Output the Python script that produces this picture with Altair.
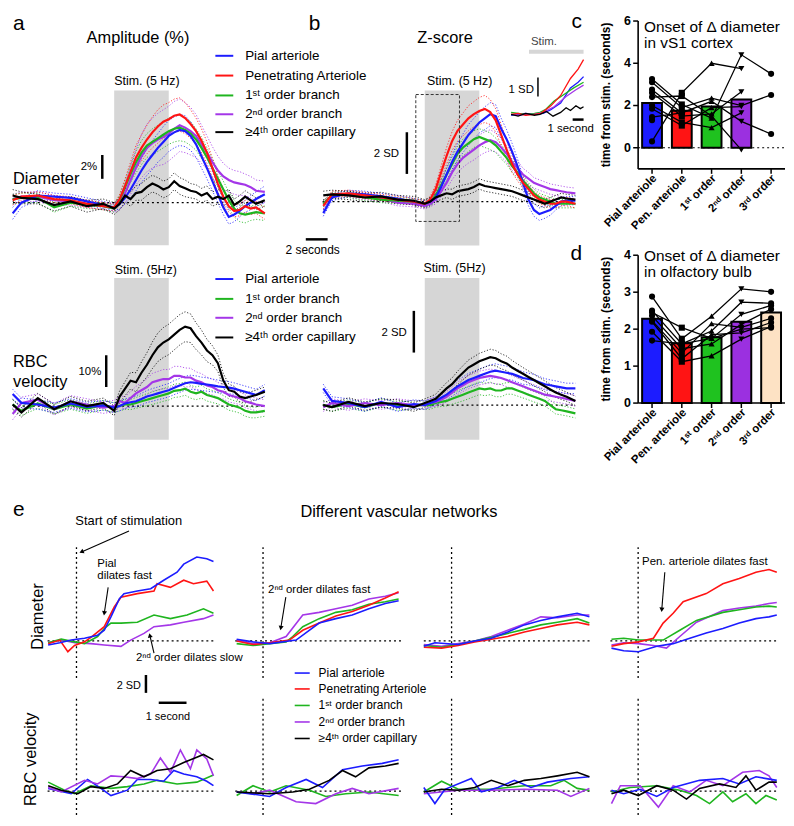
import altair as alt
import pandas as pd

FONT = "Liberation Sans"
GRAY = "#d6d6d6"
SERIES = ["pial", "pen", "first", "second", "cap"]
COLORS = ["#1c1cff", "#ff1414", "#1fb51f", "#a436e8", "#000000"]
CSCALE = alt.Scale(domain=SERIES, range=COLORS)

# ---------------- panel a / b time grid (seconds from stimulus onset) ----------------
T_AB = [-9.3, -8.5, -7, -5.5, -4, -2.5, -1, 0, 0.5, 1, 1.5, 2, 2.5, 3, 3.5, 4, 4.5, 5, 5.5, 6,
        6.5, 7, 7.5, 8, 8.5, 9, 9.5, 10, 10.5, 11, 11.5, 12, 12.5, 13, 13.8]

A_DIAM = {
    "second": [0.3, 0.5, 0.5, 0.2, 0.1, -0.1, -0.3, -0.5, -0.1, 0.8, 1.9, 3.0, 3.9, 4.6, 5.0, 5.3, 5.5, 5.8, 6.2, 6.5, 6.3, 6.0, 5.6, 4.9, 4.2, 3.4, 2.7, 2.2, 1.9, 1.7, 1.6, 1.5, 1.3, 1.0, 0.9],
    "first": [0.3, 0.4, 0.4, -0.4, 0.0, -0.2, -0.3, -0.5, 0.2, 1.3, 2.4, 3.4, 4.2, 4.8, 5.1, 5.4, 5.7, 6.0, 6.2, 6.3, 6.1, 5.8, 5.3, 4.6, 3.8, 2.9, 2.0, 1.1, 0.2, -0.5, -0.9, -1.0, -0.9, -0.8, -0.9],
    "pial": [-0.9, 0.0, 0.6, 0.5, 0.4, 0.1, -0.2, -0.4, -0.1, 0.4, 1.1, 1.9, 2.7, 3.4, 4.0, 4.6, 5.1, 5.6, 5.9, 6.1, 6.0, 5.6, 4.9, 3.9, 2.9, 1.8, 0.7, -0.4, -1.2, -1.0, -0.7, -0.3, 0.0, 0.3, 0.7],
    "pen": [0.2, 0.5, 0.6, 0.3, 0.2, -0.1, -0.3, -0.4, 0.3, 1.4, 2.6, 3.8, 4.6, 5.3, 5.9, 6.4, 6.8, 7.0, 7.3, 7.4, 7.1, 6.6, 6.0, 5.2, 4.2, 2.9, 1.6, 0.5, -0.3, -0.7, -0.6, -0.3, -0.5, -0.4, -0.9],
    "cap": [0.6, 0.4, 0.3, -0.2, 0.1, -0.3, -0.1, -0.5, -0.1, 0.6, 0.3, 0.8, 0.9, 1.3, 1.6, 1.4, 1.1, 1.3, 1.8, 1.4, 1.2, 1.0, 0.9, 0.6, 0.8, 0.3, 0.5, 0.3, 0.6, -0.2, 0.1, 0.5, 0.2, -0.1, 0.2],
}
A_DIAM_SEM = {
    "second": [0.4, 0.4, 0.4, 0.4, 0.3, 0.3, 0.3, 0.3, 0.5, 0.8, 1.2, 1.5, 1.8, 2.0, 2.1, 2.2, 2.3, 2.3, 2.3, 2.2, 2.1, 2.0, 1.8, 1.6, 1.4, 1.3, 1.2, 1.1, 1.0, 1.0, 1.0, 0.9, 0.9, 0.9, 0.9],
    "first": [0.4, 0.4, 0.4, 0.4, 0.3, 0.3, 0.3, 0.3, 0.4, 0.5, 0.7, 0.9, 1.0, 1.0, 1.1, 1.1, 1.1, 1.1, 1.1, 1.1, 1.0, 1.0, 0.9, 0.9, 0.8, 0.8, 0.7, 0.7, 0.7, 0.7, 0.7, 0.7, 0.6, 0.6, 0.6],
    "pial": [0.5, 0.4, 0.4, 0.3, 0.3, 0.3, 0.3, 0.3, 0.4, 0.5, 0.7, 0.9, 1.0, 1.1, 1.2, 1.2, 1.3, 1.3, 1.3, 1.3, 1.3, 1.2, 1.1, 1.0, 0.9, 0.8, 0.7, 0.6, 0.6, 0.6, 0.5, 0.5, 0.6, 0.6, 0.7],
    "pen": [0.4, 0.3, 0.3, 0.3, 0.3, 0.3, 0.3, 0.3, 0.4, 0.6, 0.8, 1.0, 1.1, 1.2, 1.3, 1.4, 1.4, 1.4, 1.4, 1.4, 1.3, 1.2, 1.1, 1.0, 0.9, 0.8, 0.7, 0.6, 0.5, 0.5, 0.5, 0.5, 0.5, 0.5, 0.5],
    "cap": [0.5, 0.5, 0.4, 0.5, 0.4, 0.5, 0.4, 0.5, 0.5, 0.6, 0.6, 0.6, 0.7, 0.7, 0.7, 0.7, 0.7, 0.7, 0.7, 0.7, 0.7, 0.6, 0.6, 0.6, 0.6, 0.6, 0.6, 0.6, 0.5, 0.5, 0.5, 0.5, 0.5, 0.5, 0.5],
}
B_DIAM = {
    "second": [-0.1, 0.3, 0.35, 0.25, 0.15, -0.05, -0.1, -0.2, -0.1, 0.1, 0.5, 0.9, 1.4, 1.8, 2.1, 2.3, 2.5, 2.7, 2.85, 2.95, 2.85, 2.6, 2.3, 1.9, 1.6, 1.3, 1.1, 0.9, 0.8, 0.7, 0.6, 0.55, 0.5, 0.45, 0.4],
    "first": [-0.1, 0.3, 0.35, 0.2, 0.1, 0.05, 0.0, -0.1, 0.0, 0.3, 0.8, 1.3, 1.8, 2.3, 2.6, 2.8, 3.0, 3.1, 3.0, 2.9, 2.7, 2.4, 2.1, 1.7, 1.4, 1.0, 0.7, 0.4, 0.2, 0.1, 0.0, -0.1, -0.1, -0.1, -0.1],
    "pial": [-0.55, 0.2, 0.4, 0.35, 0.25, 0.15, 0.0, -0.1, 0.0, 0.2, 0.7, 1.3, 1.9, 2.4, 2.8, 3.2, 3.5, 3.8, 4.0, 4.2, 4.1, 3.5, 3.0, 2.4, 1.7, 0.9, 0.1, -0.4, -0.6, -0.5, -0.4, -0.2, 0.0, 0.05, 0.05],
    "pen": [-0.2, 0.35, 0.4, 0.3, 0.2, 0.1, 0.0, -0.1, 0.1, 0.6, 1.4, 2.2, 2.9, 3.4, 3.7, 4.0, 4.2, 4.35, 4.45, 4.3, 3.9, 3.2, 2.5, 1.8, 1.3, 0.9, 0.6, 0.3, 0.1, 0.0, -0.1, -0.1, 0.0, 0.0, -0.1],
    "cap": [0.3, 0.35, 0.3, 0.2, 0.25, 0.1, 0.05, -0.1, 0.0, 0.2, 0.3, 0.4, 0.35, 0.5, 0.55, 0.6, 0.7, 0.85, 0.75, 0.7, 0.65, 0.6, 0.55, 0.5, 0.4, 0.3, 0.2, 0.1, 0.0, -0.1, 0.0, 0.1, 0.2, 0.15, 0.1],
}
B_DIAM_SEM = {
    "second": [0.15, 0.15, 0.15, 0.15, 0.15, 0.15, 0.15, 0.15, 0.15, 0.2, 0.25, 0.3, 0.35, 0.4, 0.45, 0.45, 0.5, 0.5, 0.5, 0.5, 0.45, 0.45, 0.4, 0.4, 0.35, 0.3, 0.3, 0.25, 0.25, 0.25, 0.25, 0.25, 0.25, 0.25, 0.25],
    "first": [0.15, 0.15, 0.15, 0.15, 0.15, 0.15, 0.15, 0.15, 0.15, 0.2, 0.25, 0.3, 0.35, 0.35, 0.4, 0.4, 0.4, 0.4, 0.4, 0.4, 0.35, 0.35, 0.3, 0.3, 0.25, 0.25, 0.2, 0.2, 0.2, 0.2, 0.2, 0.2, 0.2, 0.2, 0.2],
    "pial": [0.15, 0.15, 0.15, 0.15, 0.15, 0.15, 0.15, 0.15, 0.15, 0.2, 0.25, 0.3, 0.35, 0.4, 0.45, 0.5, 0.5, 0.5, 0.55, 0.55, 0.55, 0.5, 0.45, 0.4, 0.35, 0.3, 0.3, 0.3, 0.3, 0.3, 0.25, 0.2, 0.2, 0.2, 0.2],
    "pen": [0.15, 0.15, 0.15, 0.15, 0.15, 0.15, 0.15, 0.15, 0.15, 0.2, 0.3, 0.4, 0.45, 0.5, 0.55, 0.6, 0.6, 0.65, 0.65, 0.6, 0.55, 0.5, 0.45, 0.4, 0.3, 0.25, 0.2, 0.2, 0.2, 0.2, 0.2, 0.2, 0.2, 0.2, 0.2],
    "cap": [0.2, 0.2, 0.2, 0.2, 0.2, 0.2, 0.2, 0.2, 0.2, 0.2, 0.2, 0.2, 0.25, 0.25, 0.25, 0.25, 0.25, 0.25, 0.25, 0.25, 0.25, 0.25, 0.25, 0.25, 0.25, 0.25, 0.2, 0.2, 0.2, 0.2, 0.2, 0.2, 0.2, 0.2, 0.2],
}
A_RBC = {
    "first": [0.5, -1.5, 0.8, -1.0, 0.5, -0.8, 0.3, -0.5, 0.0, 0.5, 0.5, 1.0, 1.5, 2.0, 2.5, 3.0, 3.5, 4.0, 4.8, 5.0, 5.5, 4.5, 4.0, 4.5, 3.5, 3.0, 2.5, 1.5, 0.5, 0.0, -0.5, -1.5, -2.0, -2.0, -1.5],
    "second": [-2.5, 1.0, 2.0, -1.0, 1.5, 0.5, -0.5, 0.0, 1.5, 1.0, 2.5, 4.0, 5.0, 6.0, 7.5, 8.0, 8.5, 8.5, 9.5, 9.5, 9.0, 9.0, 8.0, 7.5, 6.5, 6.0, 5.0, 4.5, 3.5, 3.0, 2.5, 1.5, 1.0, 0.5, 0.0],
    "pial": [3.8, 1.0, 0.5, -0.5, 0.8, -0.3, 0.2, -0.5, 0.0, 0.8, 1.2, 1.5, 2.2, 3.0, 3.5, 4.0, 4.5, 5.0, 5.8, 6.5, 7.2, 7.5, 7.3, 7.0, 6.8, 6.5, 6.2, 6.0, 5.8, 5.5, 5.0, 4.5, 4.0, 3.5, 5.0],
    "cap": [0.5, -2.0, 2.5, -1.0, 1.5, 0.0, 1.0, -1.5, 3.0, 5.5, 8.0, 7.5, 10.5, 13.0, 16.0, 18.5, 20.0, 21.0, 22.5, 24.0, 25.0, 24.5, 22.0, 20.0, 17.5, 16.0, 13.5, 8.0, 5.0, 4.5, 3.0, 2.5, 3.0, 3.5, 4.5],
}
A_RBC_SEM = {
    "first": [1.5, 1.5, 1.5, 1.5, 1.5, 1.5, 1.5, 1.5, 1.5, 1.5, 1.6, 1.7, 1.8, 1.9, 2.0, 2.0, 2.0, 2.1, 2.1, 2.1, 2.1, 2.0, 2.0, 2.0, 1.9, 1.9, 1.8, 1.8, 1.8, 1.7, 1.7, 1.7, 1.7, 1.7, 1.7],
    "second": [1.8, 1.8, 1.8, 1.8, 1.8, 1.8, 1.8, 1.8, 1.8, 1.9, 2.0, 2.2, 2.4, 2.6, 2.8, 2.9, 3.0, 3.0, 3.0, 3.0, 3.0, 2.9, 2.8, 2.7, 2.6, 2.5, 2.4, 2.3, 2.2, 2.1, 2.0, 2.0, 2.0, 2.0, 2.0],
    "pial": [1.5, 1.5, 1.5, 1.5, 1.5, 1.5, 1.5, 1.5, 1.5, 1.5, 1.5, 1.7, 1.8, 1.9, 2.0, 2.0, 2.1, 2.1, 2.2, 2.2, 2.2, 2.2, 2.2, 2.1, 2.1, 2.0, 2.0, 1.9, 1.9, 1.8, 1.8, 1.8, 1.8, 1.8, 1.8],
    "cap": [1.5, 1.5, 1.5, 1.5, 1.5, 1.5, 1.5, 1.5, 1.8, 2.2, 2.6, 3.0, 3.4, 3.8, 4.2, 4.5, 4.7, 4.8, 4.8, 4.8, 4.7, 4.5, 4.2, 3.9, 3.5, 3.0, 2.6, 2.2, 1.9, 1.7, 1.6, 1.5, 1.5, 1.5, 1.5],
}
B_RBC = {
    "first": [0.0, -0.1, 0.05, -0.1, 0.1, -0.05, 0.0, 0.0, 0.0, 0.1, 0.15, 0.2, 0.3, 0.4, 0.5, 0.6, 0.7, 0.8, 0.75, 0.8, 0.7, 0.7, 0.8, 0.8, 0.7, 0.6, 0.5, 0.4, 0.3, 0.2, 0.0, -0.2, -0.25, -0.3, -0.4],
    "second": [-0.1, 0.1, -0.05, 0.1, 0.0, 0.1, 0.0, 0.0, 0.1, 0.15, 0.25, 0.4, 0.6, 0.8, 0.95, 1.1, 1.2, 1.3, 1.35, 1.4, 1.35, 1.3, 1.2, 1.1, 1.0, 0.9, 0.8, 0.7, 0.6, 0.5, 0.45, 0.4, 0.35, 0.3, 0.2],
    "pial": [0.8, 0.2, 0.1, -0.1, 0.15, -0.1, 0.05, 0.0, 0.1, 0.2, 0.35, 0.5, 0.7, 0.9, 1.05, 1.2, 1.3, 1.4, 1.5, 1.6, 1.65, 1.6, 1.55, 1.5, 1.4, 1.3, 1.25, 1.2, 1.1, 1.0, 0.95, 0.9, 0.85, 0.8, 0.8],
    "cap": [0.0, -0.1, 0.15, -0.05, 0.1, 0.05, -0.1, 0.1, 0.2, 0.3, 0.55, 0.8, 1.0, 1.3, 1.55, 1.8, 1.95, 2.1, 2.2, 2.3, 2.25, 2.1, 2.0, 1.8, 1.65, 1.5, 1.35, 1.2, 1.05, 0.9, 0.75, 0.6, 0.5, 0.4, 0.2],
}
B_RBC_SEM = {
    "first": [0.2, 0.2, 0.2, 0.2, 0.2, 0.2, 0.2, 0.2, 0.2, 0.2, 0.22, 0.24, 0.26, 0.28, 0.3, 0.3, 0.3, 0.3, 0.3, 0.3, 0.3, 0.3, 0.28, 0.28, 0.27, 0.26, 0.25, 0.25, 0.24, 0.24, 0.23, 0.23, 0.22, 0.22, 0.22],
    "second": [0.2, 0.2, 0.2, 0.2, 0.2, 0.2, 0.2, 0.2, 0.2, 0.2, 0.22, 0.25, 0.27, 0.3, 0.3, 0.32, 0.32, 0.33, 0.33, 0.33, 0.33, 0.32, 0.32, 0.3, 0.3, 0.3, 0.28, 0.28, 0.27, 0.27, 0.26, 0.26, 0.25, 0.25, 0.25],
    "pial": [0.2, 0.2, 0.2, 0.2, 0.2, 0.2, 0.2, 0.2, 0.2, 0.2, 0.22, 0.25, 0.27, 0.3, 0.3, 0.32, 0.32, 0.33, 0.33, 0.33, 0.33, 0.32, 0.32, 0.3, 0.3, 0.3, 0.28, 0.28, 0.27, 0.27, 0.26, 0.26, 0.25, 0.25, 0.25],
    "cap": [0.2, 0.2, 0.2, 0.2, 0.2, 0.2, 0.2, 0.2, 0.2, 0.22, 0.25, 0.28, 0.3, 0.32, 0.34, 0.36, 0.37, 0.38, 0.38, 0.38, 0.37, 0.36, 0.35, 0.34, 0.32, 0.3, 0.29, 0.28, 0.27, 0.26, 0.25, 0.24, 0.23, 0.22, 0.22],
}

# inset of panel b (onset detail, z-score)
INSET = {
    "pial": ([-1.64, -1.0, -0.3, 0.5, 1.3, 2.0, 2.9, 3.8, 4.5, 5.0], [-0.05, 0.0, 0.05, 0.0, 0.05, 0.25, 0.6, 1.4, 1.7, 2.0]),
    "first": ([-1.64, -1.0, -0.3, 0.5, 1.0, 1.5, 2.3, 3.2, 4.1, 5.0], [0.1, 0.05, 0.0, 0.05, 0.1, 0.25, 0.7, 1.05, 1.4, 1.7]),
    "second": ([-1.64, -1.0, -0.3, 0.5, 1.3, 2.3, 3.4, 4.3, 5.0], [0.0, -0.05, 0.0, 0.0, 0.1, 0.4, 0.95, 1.3, 1.55]),
    "pen": ([-1.64, -1.0, -0.3, 0.5, 1.1, 2.0, 2.9, 3.8, 4.5, 5.0], [0.0, 0.05, -0.05, 0.0, 0.05, 0.45, 1.0, 1.9, 2.4, 2.9]),
    "cap": ([-1.64, -1.0, -0.3, 0.5, 1.0, 1.6, 2.2, 2.9, 3.4, 3.8, 4.3, 4.7, 5.0], [0.0, -0.1, 0.05, -0.05, 0.0, 0.15, -0.1, 0.1, 0.35, 0.2, 0.45, 0.3, 0.4]),
}

# ---------------- panels c / d ----------------
CATS = ["Pial arteriole", "Pen. arteriole", "1ˢᵗ order", "2ⁿᵈ order", "3ʳᵈ order"]
CAT_POS = [1, 2, 3, 4, 5]
BAR_HALF = 0.333          # half bar width, in category units
BAR_COLORS = ["#1c1cff", "#ff1414", "#1fc21f", "#9b30e0", "#fde2c4"]
SHAPES = ["circle", "square", "triangle-up", "triangle-down", "circle"]
C_YTICKS = [0, 2, 4, 6]
D_YTICKS = [0, 1, 2, 3, 4]
C_BARS = [2.12, 1.75, 1.95, 2.28, None]
C_SUBJ = [
    [0.3, 2.6, 4.0, 3.75, None],
    [3.25, 2.05, 1.4, 4.4, 3.5],
    [3.1, 1.9, 2.35, 2.0, 2.5],
    [2.75, 1.65, 2.2, 1.25, 0.65],
    [2.6, 1.5, 1.6, 2.65, None],
    [2.4, 2.45, 1.5, -0.1, None],
    [2.0, 1.2, 0.95, 1.65, None],
    [1.85, 1.05, 1.9, 1.95, None],
    [1.45, 1.65, None, None, None],
    [1.3, None, None, None, None],
]
D_BARS = [2.28, 1.62, 1.78, 2.2, 2.45]
D_SUBJ = [
    [2.88, 1.74, 2.35, 3.09, 3.01],
    [2.5, 1.6, 1.95, 2.73, 2.7],
    [2.45, 2.04, 1.75, 2.4, 2.64],
    [2.36, 1.47, 1.6, 2.13, 2.54],
    [2.23, 1.35, 2.15, 2.05, 2.29],
    [2.2, 1.2, 1.85, 1.9, 2.18],
    [1.93, 1.12, 1.28, 1.73, 2.07],
    [1.69, 1.6, 1.75, 2.0, 2.04],
]

# ---------------- panel e (example networks, z-score) ----------------
E_DIAM = [
    {"second": ([-1.02, -0.55, -0.07, 0.52, 1.0, 1.6, 1.95, 2.43, 2.79, 3.38, 3.86, 4.57, 4.93], [-0.2, 0.1, -0.2, -0.3, -0.45, -0.6, 0.1, 0.85, 1.6, 1.8, 2.1, 2.5, 2.9]),
     "first": ([-1.02, -0.55, -0.07, 0.29, 0.76, 1.0, 1.24, 1.6, 2.19, 2.79, 3.38, 3.98, 4.57, 4.93], [-0.2, 0.2, -0.1, -0.3, 0.5, 1.4, 2.0, 2.0, 2.1, 2.9, 2.5, 2.9, 3.6, 3.1]),
     "pen": ([-1.02, -0.6, -0.31, -0.07, 0.29, 0.52, 1.0, 1.36, 1.6, 2.19, 2.79, 2.9, 3.38, 3.86, 4.21, 4.69, 4.93], [-0.3, 0.1, -1.2, -0.5, -0.1, 0.4, 1.6, 3.8, 4.9, 5.3, 5.6, 6.4, 6.0, 6.8, 6.4, 6.7, 5.6]),
     "pial": ([-1.02, -0.6, -0.19, 0.29, 0.76, 1.0, 1.24, 1.54, 1.71, 2.19, 2.67, 3.14, 3.62, 3.86, 4.33, 4.69, 4.93], [-0.45, -0.2, 0.1, 0.3, 0.65, 1.2, 2.7, 4.7, 5.3, 5.6, 5.85, 6.8, 7.7, 8.6, 9.4, 9.2, 8.9])},
    {"second": ([-0.95, -0.36, 0.24, 0.83, 1.43, 2.02, 2.62, 3.21, 3.81, 4.4, 4.88], [0.1, -0.3, -0.2, 0.5, 2.9, 3.2, 3.6, 4.0, 4.7, 5.0, 5.4]),
     "first": ([-0.95, -0.36, 0.24, 0.83, 1.07, 1.43, 2.02, 2.62, 3.21, 3.81, 4.4, 4.88], [-0.3, -0.5, -0.3, -0.1, 0.5, 1.6, 2.5, 3.2, 3.5, 4.1, 4.4, 4.7]),
     "pen": ([-0.95, -0.36, 0.24, 0.95, 1.43, 2.02, 2.62, 3.21, 3.81, 4.4, 4.88], [0.0, -0.4, -0.2, 0.1, 1.2, 2.0, 2.8, 3.3, 4.0, 4.8, 5.5]),
     "pial": ([-0.95, -0.36, 0.24, 1.19, 2.02, 2.62, 3.21, 3.81, 4.4, 4.88], [0.2, -0.1, -0.3, 0.1, 2.0, 2.5, 2.9, 3.6, 4.2, 4.5])},
    {"second": ([-1.0, -0.36, 0.24, 0.83, 1.43, 2.02, 2.62, 3.21, 3.81, 4.52, 4.96], [-0.4, -0.6, -0.3, 0.0, 0.5, 1.2, 1.9, 2.7, 2.6, 2.9, 2.9]),
     "first": ([-1.0, -0.36, 0.24, 0.83, 1.43, 2.02, 2.62, 3.21, 3.81, 4.52, 4.96], [-0.5, -0.7, -0.4, 0.0, 0.4, 0.85, 1.3, 1.8, 2.1, 2.5, 2.0]),
     "pen": ([-1.0, -0.36, 0.24, 0.83, 1.43, 2.02, 2.62, 3.21, 3.81, 4.52, 4.96], [-0.7, -0.8, -0.5, -0.1, 0.2, 0.5, 1.0, 1.4, 1.8, 2.1, 1.8]),
     "pial": ([-1.0, -0.6, 0.24, 0.83, 1.43, 2.02, 2.62, 3.21, 3.81, 4.52, 4.96], [-0.6, -0.2, -0.4, 0.0, 0.3, 1.0, 1.8, 2.3, 2.7, 3.1, 2.7])},
    {"second": ([-0.96, -0.52, 0.01, 0.55, 1.02, 1.5, 2.1, 3.05, 3.64, 4.24, 4.71, 4.99], [-0.45, -0.2, -0.3, -0.5, -0.8, 0.5, 2.1, 3.4, 3.7, 3.9, 4.2, 4.3]),
     "first": ([-0.96, -0.52, 0.01, 0.9, 1.5, 2.1, 3.05, 3.64, 4.24, 4.71, 4.99], [0.2, 0.3, 0.1, 0.1, 1.2, 2.3, 3.2, 3.5, 3.8, 3.9, 3.8]),
     "pen": ([-0.96, -0.52, 0.01, 0.55, 0.9, 1.26, 1.62, 2.45, 3.05, 3.64, 4.24, 4.71, 4.99], [-0.6, -0.3, -0.1, 0.3, 2.0, 3.1, 4.4, 5.3, 6.4, 7.0, 7.7, 8.0, 7.7]),
     "pial": ([-0.96, -0.52, 0.01, 0.67, 1.26, 1.86, 2.45, 3.05, 3.64, 4.24, 4.71, 4.99], [-0.8, -1.1, -1.2, -0.6, -0.3, 0.3, 0.9, 1.4, 2.0, 2.5, 2.7, 2.9])},
]
E_RBC = [
    {"first": ([-1.02, -0.43, -0.07, 0.52, 1.24, 1.83, 2.43, 2.9, 3.62, 4.33, 4.93], [1.0, 0.1, -0.3, 0.6, 0.3, 0.5, 0.8, 1.2, 0.8, 1.0, 1.8]),
     "pial": ([-1.02, -0.19, 0.4, 0.88, 1.24, 1.83, 2.19, 2.67, 3.14, 3.5, 3.86, 4.33, 4.69, 4.93], [0.3, -0.3, 1.3, 0.3, -0.5, 0.1, 1.3, 1.3, 1.1, 2.3, 1.9, 1.6, 1.1, 0.6]),
     "second": ([-1.02, -0.55, 0.29, 0.76, 1.24, 1.71, 2.19, 2.67, 3.02, 3.38, 3.74, 4.1, 4.33, 4.69, 4.93], [0.4, -0.1, 1.2, 0.8, 1.7, 1.6, 1.4, 1.9, 3.7, 2.1, 4.6, 2.5, 4.6, 3.6, 1.7]),
     "cap": ([-1.02, -0.55, 0.05, 0.52, 1.0, 1.48, 1.95, 2.43, 2.9, 3.38, 3.86, 4.33, 4.57, 4.93], [0.6, 0.1, -0.3, 0.5, 0.3, 0.8, 2.3, 1.6, 2.3, 2.5, 3.2, 3.8, 4.1, 3.5])},
    {"first": ([-0.95, -0.36, 0.24, 0.83, 1.67, 2.26, 2.98, 3.81, 4.88], [-0.5, 0.6, -0.1, 0.6, 0.1, -0.6, -0.3, -0.1, -0.5]),
     "second": ([-0.95, -0.36, 0.24, 1.19, 1.9, 2.62, 3.21, 3.81, 4.88], [-0.1, -0.3, 0.1, -1.2, -1.4, -0.3, 0.3, -0.3, 0.3]),
     "pial": ([-0.95, 0.24, 0.83, 1.55, 2.14, 2.86, 3.57, 4.29, 4.88], [-0.1, -0.6, 0.4, 1.3, 0.4, 2.4, 2.8, 3.1, 3.5]),
     "cap": ([-0.95, 0.24, 1.07, 1.67, 2.38, 2.86, 3.33, 3.81, 4.4, 4.88], [-0.1, -0.3, -0.1, 0.2, 1.2, 2.3, 1.6, 2.6, 2.8, 3.1])},
    {"first": ([-1.0, -0.36, 0.24, 1.43, 2.62, 3.57, 4.05, 4.52, 4.96], [-0.1, 1.1, 0.2, 0.2, 0.6, 0.6, 1.2, 0.3, 0.1]),
     "second": ([-1.0, 0.24, 1.43, 2.62, 3.81, 4.29, 4.96], [-0.3, 0.1, 0.1, 0.2, 0.1, -0.6, 0.3]),
     "pial": ([-1.0, -0.6, -0.24, 0.71, 1.07, 1.67, 2.26, 2.86, 3.45, 4.29, 4.96], [0.4, -1.4, 0.2, 1.4, -0.1, 0.4, 1.2, 0.4, 1.0, 1.4, 1.6]),
     "cap": ([-1.0, -0.36, 0.24, 0.83, 1.43, 2.02, 2.62, 3.21, 3.81, 4.52, 4.96], [-0.1, 0.2, 0.1, 0.4, 1.2, 0.6, 1.2, 1.4, 1.7, 2.1, 1.6])},
    {"first": ([-0.96, -0.29, 0.67, 1.5, 2.1, 2.57, 3.05, 3.4, 3.88, 4.24, 4.6, 4.99], [-0.1, 0.4, 0.6, 0.1, -0.5, -1.4, -0.1, -1.2, -0.3, -1.4, -0.5, -1.0]),
     "second": ([-0.96, -0.64, 0.07, 0.73, 1.26, 1.86, 2.45, 3.05, 3.76, 4.36, 4.71, 4.99], [-1.4, 0.6, 0.6, -1.8, 0.6, -0.1, 1.2, 0.6, 2.1, 2.3, 1.7, 0.4]),
     "pial": ([-0.96, -0.52, 0.07, 0.67, 1.26, 2.21, 3.05, 3.64, 4.24, 4.99], [0.1, -0.3, 0.2, -0.6, 0.4, 1.2, 1.4, 0.8, 1.6, 1.2]),
     "cap": ([-0.96, -0.52, 0.01, 0.67, 1.26, 1.74, 2.21, 2.93, 3.52, 3.88, 4.24, 4.71, 4.99], [-0.3, 0.1, -0.5, 0.6, 0.1, -0.9, 0.3, 0.8, 0.4, 1.7, 0.1, 1.0, 1.0])},
]

LEG_DIAM = ["Pial arteriole", "Penetrating Arteriole", "1ˢᵗ order branch", "2ⁿᵈ order branch", "≥4ᵗʰ order capillary"]
LEG_RBC = ["Pial arteriole", "1ˢᵗ order branch", "2ⁿᵈ order branch", " ≥4ᵗʰ order capillary"]


# ---------------- helpers ----------------
def scales(xdom, ydom, xr, yr):
    sx = alt.Scale(domain=xdom, range=xr, nice=False, zero=False, padding=0)
    sy = alt.Scale(domain=ydom, range=yr, nice=False, zero=False, padding=0)
    X = lambda f: alt.X(f, type="quantitative", scale=sx, axis=None)
    Y = lambda f: alt.Y(f, type="quantitative", scale=sy, axis=None)
    return X, Y


def txt(X, Y, rows, **mk):
    df = pd.DataFrame(rows, columns=["t", "v", "label"])
    props = dict(font=FONT, fontSize=12, align="left", baseline="alphabetic", color="black")
    props.update(mk)
    return alt.Chart(df).mark_text(**props).encode(x=X("t"), y=Y("v"), text=alt.Text("label:N"))


def seg(X, Y, rows, **mk):
    df = pd.DataFrame(rows, columns=["t", "v", "t2", "v2"])
    props = dict(color="black", strokeWidth=1.5)
    props.update(mk)
    return alt.Chart(df).mark_rule(**props).encode(x=X("t"), y=Y("v"), x2=alt.X2("t2"), y2=alt.Y2("v2"))


def box(X, Y, rows, **mk):
    df = pd.DataFrame(rows, columns=["t", "v", "t2", "v2"])
    return alt.Chart(df).mark_rect(**mk).encode(x=X("t"), y=Y("v"), x2=alt.X2("t2"), y2=alt.Y2("v2"))


def traces(X, Y, df, **mk):
    props = dict(strokeWidth=2)
    props.update(mk)
    return alt.Chart(df).mark_line(**props).encode(
        x=X("t"), y=Y("v"), color=alt.Color("s:N", scale=CSCALE, legend=None), detail="k:N")


def mean_df(T, data):
    rows = []
    for s, vals in data.items():
        for t, v in zip(T, vals):
            rows.append((t, v, s, s))
    return pd.DataFrame(rows, columns=["t", "v", "s", "k"])


def sem_df(T, data, sem):
    rows = []
    for s, vals in data.items():
        for t, v, e in zip(T, vals, sem[s]):
            rows.append((t, v + e, s, s + "_hi"))
            rows.append((t, v - e, s, s + "_lo"))
    return pd.DataFrame(rows, columns=["t", "v", "s", "k"])


def pair_df(d):
    rows = []
    for s, (ts, vs) in d.items():
        for t, v in zip(ts, vs):
            rows.append((t, v, s, s))
    return pd.DataFrame(rows, columns=["t", "v", "s", "k"])


def legend(X, Y, keys, labels, ys, t0, t1, tt, size, width=2):
    df = pd.DataFrame({"t": [t0] * len(keys), "t2": [t1] * len(keys), "v": ys, "s": keys})
    lines = alt.Chart(df).mark_rule(strokeWidth=width).encode(
        x=X("t"), x2=alt.X2("t2"), y=Y("v"), color=alt.Color("s:N", scale=CSCALE, legend=None))
    return [lines, txt(X, Y, list(zip([tt] * len(keys), ys, labels)), baseline="middle", fontSize=size)]


def arrow(X, Y, t, v, t2, v2, ang):
    head = alt.Chart(pd.DataFrame({"t": [t2], "v": [v2]})).mark_point(
        shape="triangle-up", filled=True, size=26, angle=ang, color="black", opacity=1
    ).encode(x=X("t"), y=Y("v"))
    return [seg(X, Y, [(t, v, t2, v2)], strokeWidth=1.1), head]


DOT = dict(strokeDash=[2, 3], strokeWidth=1.3)
SEMSTYLE = dict(strokeWidth=0.9, strokeDash=[1.2, 1.8], opacity=0.9)

# One canvas (778 x 805 px); every sub-panel gets its own scales whose ranges place it.
# ================= panel a =================
Xa, Ya = scales([-9.273, 16.364], [-4.083, 15.25], [0, 282], [237, 5])
a_diam = alt.layer(
    box(Xa, Ya, [(0, 9.42, 5, -3.58)], color=GRAY),
    seg(Xa, Ya, [(-9.27, 0, 13.8, 0)], **DOT),
    traces(Xa, Ya, sem_df(T_AB, A_DIAM, A_DIAM_SEM), **SEMSTYLE),
    traces(Xa, Ya, mean_df(T_AB, A_DIAM), strokeWidth=2.2),
    seg(Xa, Ya, [(-1.09, 2.0, -1.09, 4.0)], strokeWidth=2.5),
    txt(Xa, Ya, [(-9.273, 14.5, "a")], fontSize=21),
    txt(Xa, Ya, [(2.18, 13.4, "Amplitude (%)")], fontSize=16.5, align="center"),
    txt(Xa, Ya, [(3.0, 9.9, "Stim. (5 Hz)")], fontSize=12.5, align="center"),
    txt(Xa, Ya, [(-9.273, 1.58, "Diameter")], fontSize=16.5),
    txt(Xa, Ya, [(-1.55, 2.75, "2%")], fontSize=11.5, align="right"),
    *legend(Xa, Ya, ["pial", "pen", "first", "second", "cap"], LEG_DIAM,
            [12.33, 10.67, 9.0, 7.42, 5.92], 9.27, 10.91, 12.0, 13.5),
)

Xar, Yar = scales([-9.273, 16.364], [-21.56, 48.75], [0, 282], [462, 237])
a_rbc = alt.layer(
    box(Xar, Yar, [(0, 40.3, 5, -10.6)], color=GRAY),
    seg(Xar, Yar, [(-9.27, 0, 13.8, 0)], **DOT),
    traces(Xar, Yar, sem_df(T_AB, A_RBC, A_RBC_SEM), **SEMSTYLE),
    traces(Xar, Yar, mean_df(T_AB, A_RBC), strokeWidth=2.2),
    seg(Xar, Yar, [(-0.73, 6.0, -0.73, 16.0)], strokeWidth=2.5),
    txt(Xar, Yar, [(2.9, 41.6, "Stim. (5Hz)")], fontSize=12.5, align="center"),
    txt(Xar, Yar, [(-9.273, 12.2, "RBC"), (-9.273, 5.9, "velocity")], fontSize=16.5),
    txt(Xar, Yar, [(-1.18, 9.7, "10%")], fontSize=11.5, align="right"),
    *legend(Xar, Yar, ["pial", "first", "second", "cap"], LEG_RBC,
            [40.0, 33.75, 27.8, 21.6], 9.27, 10.91, 12.0, 13.5),
)

# ================= panel b =================
Xb, Yb = scales([-12.09, 19.55], [-2.381, 8.667], [282, 630], [237, 5])
b_diam = alt.layer(
    box(Xb, Yb, [(0, 5.33, 5, -2.1)], color=GRAY),
    seg(Xb, Yb, [(-9.36, 0, 13.8, 0)], **DOT),
    traces(Xb, Yb, sem_df(T_AB, B_DIAM, B_DIAM_SEM), **SEMSTYLE),
    traces(Xb, Yb, mean_df(T_AB, B_DIAM), strokeWidth=2.2),
    box(Xb, Yb, [(-0.82, 5.14, 3.18, -0.95)], fillOpacity=0, stroke="#333333", strokeWidth=1, strokeDash=[3, 2]),
    seg(Xb, Yb, [(-1.64, 1.33, -1.64, 3.33)], strokeWidth=2.5),
    seg(Xb, Yb, [(-10.9, -1.81, -8.9, -1.81)], strokeWidth=2.5),
    txt(Xb, Yb, [(-10.64, 8.24, "b")], fontSize=21),
    txt(Xb, Yb, [(13.45, 8.33, "c")], fontSize=21),
    txt(Xb, Yb, [(1.86, 7.62, "Z-score")], fontSize=16.5, align="center"),
    txt(Xb, Yb, [(3.2, 5.62, "Stim. (5 Hz)")], fontSize=12.5, align="center"),
    txt(Xb, Yb, [(-2.36, 2.14, "2 SD")], fontSize=11.5, align="right"),
    txt(Xb, Yb, [(-10.27, -2.52, "2 seconds")], fontSize=12, align="center"),
)

Xi, Yi = scales([-1.64, 5.0], [0, 3], [502, 575], [99, 42])
inset = alt.layer(
    box(Xi, Yi, [(0, 3.21, 5, 3.42)], color=GRAY),
    traces(Xi, Yi, pair_df(INSET), strokeWidth=1.3),
    seg(Xi, Yi, [(0.82, 0.95, 0.82, 1.95)], strokeWidth=1.5),
    seg(Xi, Yi, [(4.0, -0.28, 5.0, -0.28)], strokeWidth=2.5),
    txt(Xi, Yi, [(0.18, 3.68, "Stim.")], fontSize=11.5, color="#444444"),
    txt(Xi, Yi, [(0.45, 1.15, "1 SD")], fontSize=11.5, align="right"),
    txt(Xi, Yi, [(3.82, -0.95, "1 second")], fontSize=11.5, align="center"),
)

Xbr, Ybr = scales([-12.09, 19.55], [-3.333, 7.381], [282, 630], [462, 237])
b_rbc = alt.layer(
    box(Xbr, Ybr, [(0, 6.1, 5, -1.67)], color=GRAY),
    seg(Xbr, Ybr, [(-9.36, 0, 13.8, 0)], **DOT),
    traces(Xbr, Ybr, sem_df(T_AB, B_RBC, B_RBC_SEM), **SEMSTYLE),
    traces(Xbr, Ybr, mean_df(T_AB, B_RBC), strokeWidth=2.2),
    seg(Xbr, Ybr, [(-1.0, 2.52, -1.0, 4.52)], strokeWidth=2.5),
    txt(Xbr, Ybr, [(2.73, 6.38, "Stim. (5Hz)")], fontSize=12.5, align="center"),
    txt(Xbr, Ybr, [(-1.64, 3.33, "2 SD")], fontSize=11.5, align="right"),
    txt(Xbr, Ybr, [(13.36, 6.95, "d")], fontSize=21),
)


# ================= panels c / d (categories at positions 1..5) =================
def bar_panel(X, Y, bars, subj, ybase, yticks, ytop, title_rows, zero_line, tick_units, label_v):
    bdf = pd.DataFrame([(p - BAR_HALF, p + BAR_HALF, c, v, 0) for p, c, v in zip(CAT_POS, CATS, bars) if v is not None],
                       columns=["t0", "t1", "cat", "v", "z"])
    srows = []
    for i, row in enumerate(subj):
        for j, (p, c, v) in enumerate(zip(CAT_POS, CATS, row)):
            if v is not None:
                srows.append((i, j, p, c, v))
    sdf = pd.DataFrame(srows, columns=["subj", "idx", "t", "cat", "v"])
    x0, x1 = 0.533, 5.467
    layers = []
    if zero_line:
        layers.append(seg(X, Y, [(x0, 0, x1, 0)], strokeDash=[2, 3], strokeWidth=1.2))
    layers += [
        alt.Chart(bdf).mark_rect(stroke="black", strokeWidth=2).encode(
            x=X("t0"), x2=alt.X2("t1"), y=Y("v"), y2=alt.Y2("z"),
            fill=alt.Fill("cat:N", scale=alt.Scale(domain=CATS, range=BAR_COLORS), legend=None)),
        alt.Chart(sdf).mark_line(color="black", strokeWidth=1.3).encode(
            x=X("t"), y=Y("v"), detail="subj:N", order=alt.Order("idx:Q")),
        alt.Chart(sdf).mark_point(filled=True, size=38, color="black", opacity=1).encode(
            x=X("t"), y=Y("v"), shape=alt.Shape("cat:N", scale=alt.Scale(domain=CATS, range=SHAPES), legend=None)),
        # axes
        seg(X, Y, [(x0, ybase, x0, ytop)], strokeWidth=1.6),
        seg(X, Y, [(x0, ybase, x1, ybase)], strokeWidth=1.6),
        seg(X, Y, [(x0 - 0.167, v, x0, v) for v in yticks], strokeWidth=1.5),
        seg(X, Y, [(p, ybase, p, ybase - tick_units) for p in CAT_POS], strokeWidth=1.5),
        txt(X, Y, [(x0 - 0.24, v, str(v)) for v in yticks], fontSize=12.5, fontWeight="bold",
            align="right", baseline="middle"),
        txt(X, Y, [(p + 0.1, label_v, c) for p, c in zip(CAT_POS, CATS)], fontSize=11.5,
            fontWeight="bold", align="right", baseline="middle", angle=315),
        txt(X, Y, [(-0.55, (ybase + ytop) / 2, "time from stim. (seconds)")], fontSize=12,
            fontWeight="bold", align="center", baseline="middle", angle=270),
        txt(X, Y, title_rows, fontSize=15.5),
    ]
    return alt.layer(*layers)


Xc, Yc = scales([0.533, 5.467], [-1, 6], [630, 778], [154, 5])
c_panel = bar_panel(Xc, Yc, C_BARS, C_SUBJ, -1, C_YTICKS, 6,
                    [(0.733, 5.5, "Onset of Δ diameter"), (0.733, 4.74, "in vS1 cortex")], True, 0.235, -1.38)
Xd, Yd = scales([0.533, 5.467], [0, 4], [630, 778], [390, 241])
d_panel = bar_panel(Xd, Yd, D_BARS, D_SUBJ, 0, D_YTICKS, 4,
                    [(0.733, 3.84, "Onset of Δ diameter"), (0.733, 3.41, "in olfactory bulb")], False, 0.134, -0.215)

# ================= panel e =================
EX1 = [-2.286, 4.964]
EX = [-1.0, 5.0]
EYD = [-5.14, 18.63]
EYR = [-2.67, 11.67]
XR = [[0, 203], [224, 392], [414, 582], [602, 770]]
YRD = [676, 462]
YRR = [805, 676]


def e_base(X, Y, d, vtop, vbot, b0):
    return [
        seg(X, Y, [(0, vbot, 0, vtop)], **DOT),
        seg(X, Y, [(b0, 0, 5.0, 0)], **DOT),
        traces(X, Y, pair_df(d), strokeWidth=1.6),
    ]


X1, Y1 = scales(EX1, EYD, XR[0], YRD)
e1 = alt.layer(
    *e_base(X1, Y1, E_DIAM[0], 10.5, -4.14, -1.04),
    txt(X1, Y1, [(-2.286, 13.97, "e")], fontSize=21),
    txt(X1, Y1, [(-0.04, 12.97, "Start of stimulation")], fontSize=13),
    *arrow(X1, Y1, 1.89, 12.3, 0.18, 9.97, 246),
    txt(X1, Y1, [(0.75, 8.3, "Pial"), (0.75, 6.97, "dilates fast")], fontSize=11.5),
    *arrow(X1, Y1, 1.14, 6.0, 1.0, 3.1, 188),
    txt(X1, Y1, [(2.14, -2.26, "2ⁿᵈ order dilates slow")], fontSize=11.5),
    *arrow(X1, Y1, 2.79, -1.37, 2.64, 0.63, 347),
    txt(X1, Y1, [(-1.39, 2.74, "Diameter")], fontSize=16.5, angle=270, align="center", baseline="middle"),
)

X2, Y2 = scales(EX, EYD, XR[1], YRD)
e2 = alt.layer(
    *e_base(X2, Y2, E_DIAM[1], 10.5, -4.14, -1.0),
    txt(X2, Y2, [(4.89, 13.86, "Different vascular networks")], fontSize=16.5, align="center"),
    txt(X2, Y2, [(0.18, 5.4, "2ⁿᵈ order dilates fast")], fontSize=11.5),
    *arrow(X2, Y2, 0.82, 4.9, 0.64, 1.45, 190),
)

X3, Y3 = scales(EX, EYD, XR[2], YRD)
e3 = alt.layer(*e_base(X3, Y3, E_DIAM[2], 10.5, -4.14, -1.0))

X4, Y4 = scales(EX, EYD, XR[3], YRD)
e4 = alt.layer(
    *e_base(X4, Y4, E_DIAM[3], 10.5, -4.14, -1.0),
    txt(X4, Y4, [(0.14, 8.5, "Pen. arteriole dilates fast")], fontSize=11.5),
    *arrow(X4, Y4, 0.96, 7.7, 0.85, 3.5, 184),
)

R1X, R1Y = scales(EX1, EYR, XR[0], YRR)
r1 = alt.layer(
    *e_base(R1X, R1Y, E_RBC[0], 10.67, -2.67, -1.04),
    seg(R1X, R1Y, [(2.5, 11.0, 2.5, 13.0)], strokeWidth=2.5),
    txt(R1X, R1Y, [(2.32, 11.44, "2 SD")], fontSize=11, align="right"),
    seg(R1X, R1Y, [(2.96, 9.89, 3.96, 9.89)], strokeWidth=2.5),
    txt(R1X, R1Y, [(3.29, 8.0, "1 second")], fontSize=11, align="center"),
    txt(R1X, R1Y, [(-1.64, 3.56, "RBC velocity")], fontSize=16.5, angle=270, align="center", baseline="middle"),
)

R2X, R2Y = scales(EX, EYR, XR[1], YRR)
r2 = alt.layer(
    *e_base(R2X, R2Y, E_RBC[1], 10.67, -2.67, -1.0),
    *legend(R2X, R2Y, ["pial", "pen", "first", "second", "cap"], LEG_DIAM,
            [13.22, 11.44, 9.59, 7.74, 5.89], 1.14, 1.68, 2.0, 12, width=1.6),
)

R3X, R3Y = scales(EX, EYR, XR[2], YRR)
r3 = alt.layer(*e_base(R3X, R3Y, E_RBC[2], 10.67, -2.67, -1.0))

R4X, R4Y = scales(EX, EYR, XR[3], YRR)
r4 = alt.layer(*e_base(R4X, R4Y, E_RBC[3], 10.67, -2.67, -1.0))

# ================= single canvas =================
chart = alt.layer(
    a_diam, a_rbc, b_diam, inset, b_rbc, c_panel, d_panel, e1, e2, e3, e4, r1, r2, r3, r4
).resolve_scale(x="independent", y="independent").properties(
    width=778, height=805, padding={"left": 0, "top": 0, "right": 0, "bottom": 0}, background="white"
).configure_view(stroke=None)

chart.save("out.html", embed_options={"renderer": "svg", "actions": False})
